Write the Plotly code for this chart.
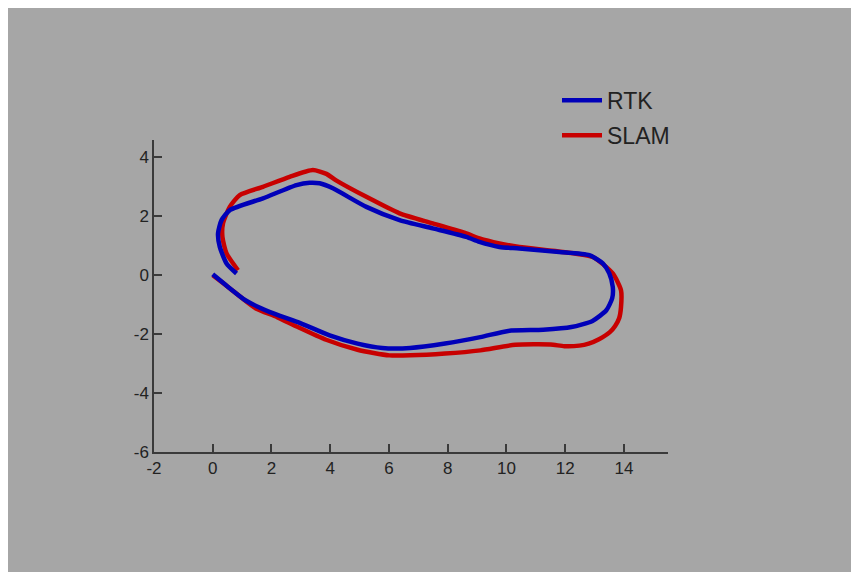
import plotly.graph_objects as go

# RTK trajectory (blue)
rtk_x = [0.0, 0.5, 1.11, 1.95, 2.90, 3.98, 4.93, 5.77, 6.72, 7.91, 9.11, 10.06, 11.25, 12.21, 12.93,
         13.40, 13.60, 13.62, 13.50, 13.28, 12.82, 11.80, 10.44, 9.76, 9.08, 8.63, 7.49, 6.36, 5.23,
         4.09, 3.64, 3.30, 2.85, 1.71, 0.58, 0.30, 0.18, 0.24, 0.47, 0.81]
rtk_y = [0.03, -0.38, -0.85, -1.25, -1.59, -2.04, -2.32, -2.47, -2.47, -2.32, -2.10, -1.89, -1.85, -1.76, -1.55,
         -1.19, -0.78, -0.40, 0.06, 0.40, 0.68, 0.79, 0.91, 0.96, 1.13, 1.30, 1.59, 1.87, 2.32,
         2.95, 3.12, 3.14, 3.06, 2.61, 2.21, 1.87, 1.42, 0.96, 0.40, 0.06]

# SLAM trajectory (red)
slam_x = [0.0, 0.5, 1.0, 1.47, 2.19, 2.90, 3.86, 4.93, 6.01, 6.72, 7.91, 9.11, 10.30, 11.50, 11.97,
          12.48, 12.80, 13.15, 13.52, 13.70, 13.84, 13.90, 13.90, 13.62, 12.94, 11.92, 10.44, 9.76,
          9.08, 8.63, 7.49, 6.36, 5.23, 4.20, 3.87, 3.41, 2.62, 1.71, 0.92, 0.58, 0.35, 0.33, 0.47, 0.86]
slam_y = [0.0, -0.38, -0.78, -1.13, -1.42, -1.76, -2.19, -2.53, -2.72, -2.72, -2.66, -2.55, -2.36, -2.35, -2.41,
          -2.39, -2.32, -2.17, -1.93, -1.72, -1.45, -1.08, -0.51, 0.06, 0.62, 0.79, 0.96, 1.08,
          1.25, 1.42, 1.76, 2.10, 2.66, 3.22, 3.44, 3.57, 3.34, 3.00, 2.72, 2.32, 1.76, 1.30, 0.74, 0.17]

x_ticks = [-2, 0, 2, 4, 6, 8, 10, 12, 14]
y_ticks = [-6, -4, -2, 0, 2, 4]

BLUE = "rgb(0,0,185)"
RED = "rgb(200,0,0)"
BG = "rgb(166,166,166)"
AX = "#3a3a3a"

fig = go.Figure()
fig.add_trace(go.Scatter(x=slam_x, y=slam_y, mode="lines", name="SLAM",
                         line=dict(color=RED, width=4.5, shape="spline", smoothing=0.6),
                         legendgroup="b", legendrank=2))
fig.add_trace(go.Scatter(x=rtk_x, y=rtk_y, mode="lines", name="RTK",
                         line=dict(color=BLUE, width=4.5, shape="spline", smoothing=0.6),
                         legendgroup="a", legendrank=1))

axis_common = dict(showline=True, linecolor=AX, linewidth=1.5, ticks="inside", ticklen=8,
                   tickcolor=AX, tickwidth=1.5, showgrid=False, zeroline=False,
                   tickfont=dict(family="Liberation Sans, Arial, sans-serif", size=17, color="#222"))

fig.update_layout(
    width=851, height=564,
    margin=dict(l=146, r=191, t=132, b=120),
    paper_bgcolor=BG, plot_bgcolor=BG,
    xaxis=dict(range=[-2, 15.5], tickvals=x_ticks, ticktext=[str(v) for v in x_ticks], **axis_common),
    yaxis=dict(range=[-6, 4.59], tickvals=y_ticks, ticktext=[str(v) for v in y_ticks], **axis_common),
    legend=dict(x=(557 - 154) / 514, y=1 + (140 - 79) / 311.5, xanchor="left", yanchor="top",
                bgcolor="rgba(0,0,0,0)", traceorder="grouped", tracegroupgap=2, itemwidth=40,
                font=dict(family="Liberation Sans, Arial, sans-serif", size=23, color="#222")),
    showlegend=True,
)

fig.write_html("out.html")
